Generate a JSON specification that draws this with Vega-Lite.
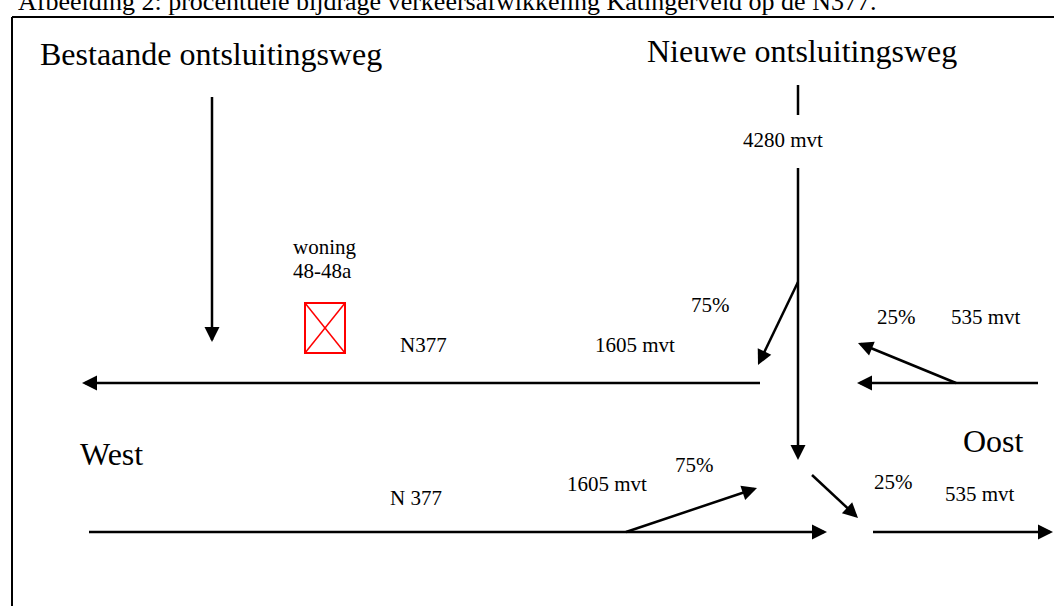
{
  "$schema": "https://vega.github.io/schema/vega-lite/v6.json",
  "width": 1054,
  "height": 606,
  "padding": 0,
  "autosize": {"type": "none"},
  "background": "white",
  "config": {"view": {"stroke": null}},
  "datasets": {
    "lines": [
      {"x": 212, "y": 97, "x2": 212, "y2": 340},
      {"x": 798, "y": 85, "x2": 798, "y2": 115},
      {"x": 798, "y": 168, "x2": 798, "y2": 455},
      {"x": 798, "y": 282, "x2": 760, "y2": 361},
      {"x": 760, "y": 383, "x2": 85, "y2": 383},
      {"x": 1038, "y": 383, "x2": 860, "y2": 383},
      {"x": 956, "y": 383, "x2": 861, "y2": 344},
      {"x": 89, "y": 532, "x2": 824, "y2": 532},
      {"x": 626, "y": 532, "x2": 754, "y2": 489},
      {"x": 812, "y": 475, "x2": 856, "y2": 516},
      {"x": 873, "y": 532, "x2": 1050, "y2": 532}
    ],
    "border": [
      {"x": 12, "y": 17, "x2": 1054, "y2": 17},
      {"x": 12, "y": 17, "x2": 12, "y2": 606}
    ],
    "heads": [
      {"x": 212, "y": 342, "dir": 90},
      {"x": 798, "y": 460, "dir": 90},
      {"x": 758, "y": 365, "dir": 115.7},
      {"x": 82, "y": 383, "dir": 180},
      {"x": 857, "y": 383, "dir": 180},
      {"x": 858, "y": 343, "dir": 202.2},
      {"x": 827, "y": 532, "dir": 0},
      {"x": 757, "y": 488, "dir": -18.6},
      {"x": 858, "y": 518, "dir": 43.1},
      {"x": 1053, "y": 532, "dir": 0}
    ],
    "house": [
      {"x": 305, "y": 303, "x2": 345, "y2": 353}
    ],
    "houseCross": [
      {"x": 305, "y": 303, "x2": 345, "y2": 353},
      {"x": 345, "y": 303, "x2": 305, "y2": 353}
    ],
    "bigText": [
      {"x": 40, "y": 65, "label": "Bestaande ontsluitingsweg"},
      {"x": 647, "y": 62, "label": "Nieuwe ontsluitingsweg"},
      {"x": 80, "y": 465, "label": "West"},
      {"x": 963, "y": 452, "label": "Oost"}
    ],
    "smallText": [
      {"x": 293, "y": 254, "label": "woning"},
      {"x": 293, "y": 278, "label": "48-48a"},
      {"x": 400, "y": 352, "label": "N377"},
      {"x": 595, "y": 352, "label": "1605 mvt"},
      {"x": 691, "y": 312, "label": "75%"},
      {"x": 743, "y": 147, "label": "4280 mvt"},
      {"x": 877, "y": 324, "label": "25%"},
      {"x": 951, "y": 324, "label": "535 mvt"},
      {"x": 675, "y": 472, "label": "75%"},
      {"x": 567, "y": 491, "label": "1605 mvt"},
      {"x": 390, "y": 505, "label": "N 377"},
      {"x": 874, "y": 489, "label": "25%"},
      {"x": 945, "y": 501, "label": "535 mvt"}
    ],
    "titleText": [
      {"x": 18, "y": 10, "label": "Afbeelding 2: procentuele bijdrage verkeersafwikkeling Katingerveld op de N377."}
    ]
  },
  "encoding": {
    "x": {"field": "x", "type": "quantitative", "scale": {"domain": [0, 1054], "nice": false, "zero": false}, "axis": null},
    "y": {"field": "y", "type": "quantitative", "scale": {"domain": [0, 606], "reverse": true, "nice": false, "zero": false}, "axis": null}
  },
  "layer": [
    {
      "data": {"name": "border"},
      "mark": {"type": "rule", "color": "black", "strokeWidth": 2},
      "encoding": {"x2": {"field": "x2"}, "y2": {"field": "y2"}}
    },
    {
      "data": {"name": "lines"},
      "mark": {"type": "rule", "color": "black", "strokeWidth": 2.5},
      "encoding": {"x2": {"field": "x2"}, "y2": {"field": "y2"}}
    },
    {
      "data": {"name": "heads"},
      "mark": {"type": "point", "shape": "M0,0L-1,-0.5L-1,0.5Z", "filled": true, "color": "black", "opacity": 1, "size": 900, "strokeWidth": 0},
      "encoding": {"angle": {"field": "dir", "type": "quantitative", "scale": null}}
    },
    {
      "data": {"name": "house"},
      "mark": {"type": "rect", "fill": null, "fillOpacity": 0, "stroke": "#ff0000", "strokeWidth": 2},
      "encoding": {"x2": {"field": "x2"}, "y2": {"field": "y2"}}
    },
    {
      "data": {"name": "houseCross"},
      "mark": {"type": "rule", "color": "#ff0000", "strokeWidth": 1.5},
      "encoding": {"x2": {"field": "x2"}, "y2": {"field": "y2"}}
    },
    {
      "data": {"name": "bigText"},
      "mark": {"type": "text", "font": "Liberation Serif", "fontSize": 32, "align": "left", "baseline": "alphabetic", "color": "black"},
      "encoding": {"text": {"field": "label"}}
    },
    {
      "data": {"name": "smallText"},
      "mark": {"type": "text", "font": "Liberation Serif", "fontSize": 21, "align": "left", "baseline": "alphabetic", "color": "black"},
      "encoding": {"text": {"field": "label"}}
    },
    {
      "data": {"name": "titleText"},
      "mark": {"type": "text", "font": "Liberation Serif", "fontSize": 26, "align": "left", "baseline": "alphabetic", "color": "black"},
      "encoding": {"text": {"field": "label"}}
    }
  ]
}
